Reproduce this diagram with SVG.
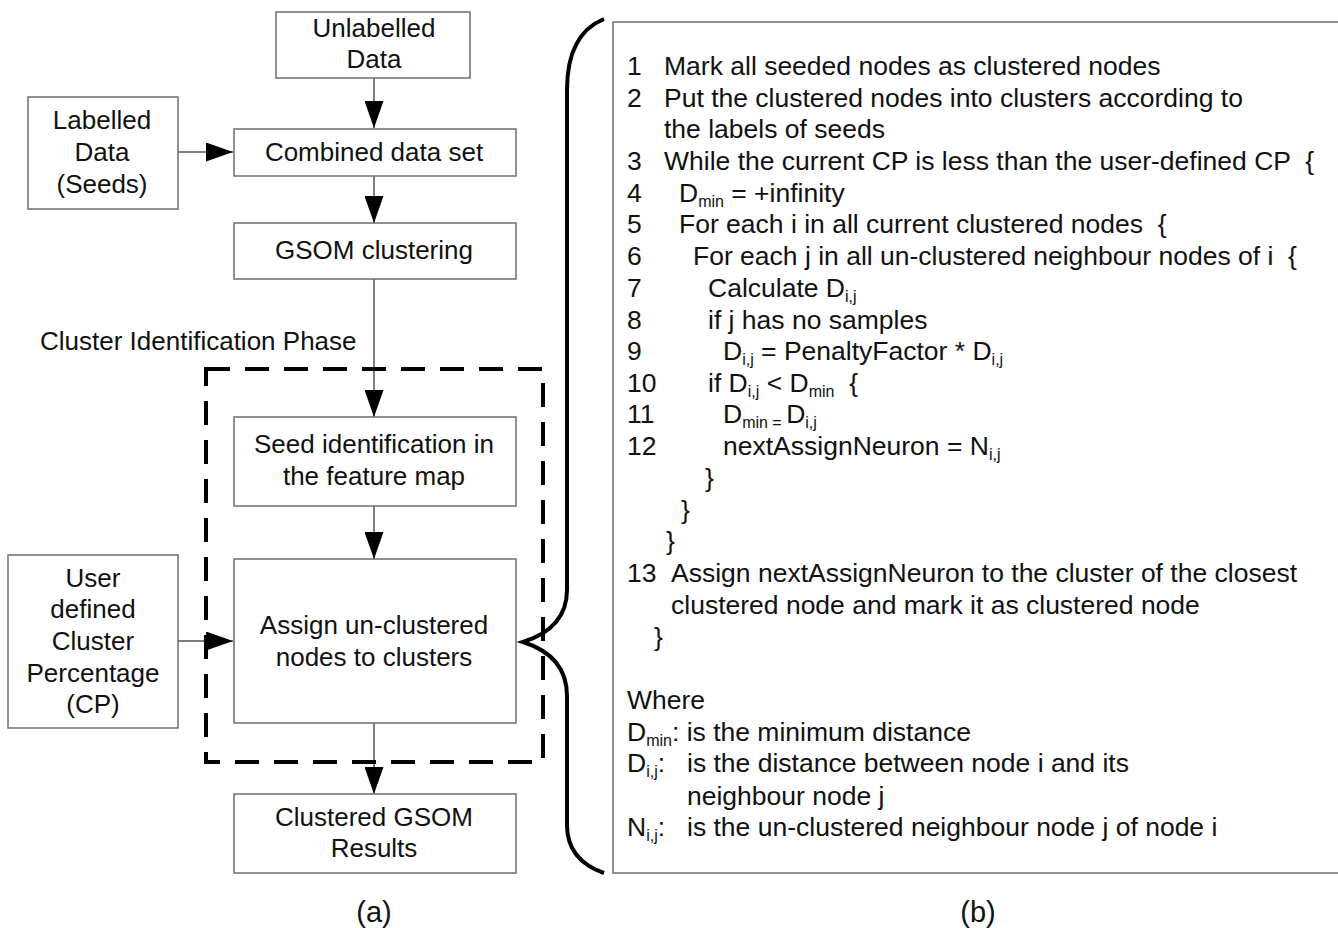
<svg xmlns="http://www.w3.org/2000/svg" width="1338" height="928" viewBox="0 0 1338 928">
<style>
.bx{fill:#fff;stroke:#6e6e6e;stroke-width:1.5}
.t{font-family:"Liberation Sans",Arial,sans-serif;font-size:26px;fill:#111}
.r{font-size:26.5px}
.c{text-anchor:middle}
.cap{font-size:29px}
.cn{stroke:#555;stroke-width:1.5;fill:none}
.sub{font-size:16px}
</style>
<defs>
<marker id="ah" markerUnits="userSpaceOnUse" markerWidth="27" markerHeight="19" refX="27" refY="9.5" orient="auto">
<path d="M0,0 L27,9.5 L0,19 z" fill="#000"/>
</marker>
</defs>
<rect x="0" y="0" width="1338" height="928" fill="#fff"/>

<g id="connectors">
<line class="cn" x1="374" y1="78" x2="374" y2="128" marker-end="url(#ah)"/>
<line class="cn" x1="178" y1="152" x2="233" y2="152" marker-end="url(#ah)"/>
<line class="cn" x1="374" y1="176" x2="374" y2="223" marker-end="url(#ah)"/>
<line class="cn" x1="374" y1="279" x2="374" y2="417" marker-end="url(#ah)"/>
<line class="cn" x1="374" y1="506" x2="374" y2="559" marker-end="url(#ah)"/>
<line class="cn" x1="178" y1="641" x2="233" y2="641" marker-end="url(#ah)"/>
<line class="cn" x1="374" y1="723" x2="374" y2="794" marker-end="url(#ah)"/>
</g>

<g id="phase">
<rect x="206" y="369" width="337" height="393" fill="none" stroke="#000" stroke-width="4" stroke-dasharray="24,15"/>
<text class="t" x="40" y="350">Cluster Identification Phase</text>
</g>

<g id="unlabelled">
<rect class="bx" x="276" y="12" width="194" height="66"/>
<text class="t c" x="374" y="37">Unlabelled</text>
<text class="t c" x="374" y="68">Data</text>
</g>
<g id="labelled">
<rect class="bx" x="28" y="97" width="150" height="112"/>
<text class="t c" x="102" y="129">Labelled</text>
<text class="t c" x="102" y="161">Data</text>
<text class="t c" x="102" y="193">(Seeds)</text>
</g>
<g id="combined">
<rect class="bx" x="234" y="129" width="282" height="47"/>
<text class="t c" x="374" y="161">Combined data set</text>
</g>
<g id="gsom">
<rect class="bx" x="234" y="223" width="282" height="56"/>
<text class="t c" x="374" y="259">GSOM clustering</text>
</g>
<g id="seed">
<rect class="bx" x="234" y="417" width="282" height="89"/>
<text class="t c" x="374" y="453">Seed identification in</text>
<text class="t c" x="374" y="485">the feature map</text>
</g>
<g id="assign">
<rect class="bx" x="234" y="559" width="282" height="164"/>
<text class="t c" x="374" y="634">Assign un-clustered</text>
<text class="t c" x="374" y="666">nodes to clusters</text>
</g>
<g id="cp">
<rect class="bx" x="8" y="555" width="170" height="173"/>
<text class="t c" x="93" y="587">User</text>
<text class="t c" x="93" y="618">defined</text>
<text class="t c" x="93" y="650">Cluster</text>
<text class="t c" x="93" y="682">Percentage</text>
<text class="t c" x="93" y="713">(CP)</text>
</g>
<g id="results">
<rect class="bx" x="234" y="794" width="282" height="79"/>
<text class="t c" x="374" y="826">Clustered GSOM</text>
<text class="t c" x="374" y="857">Results</text>
</g>
<text class="t c cap" x="374" y="922">(a)</text>

<g id="brace">
<path d="M604,19 Q567,34 567,90 L567,590 Q567,628 523,642 Q567,656 567,696 L567,825 Q567,860 604,873" fill="none" stroke="#000" stroke-width="4"/>
</g>

<g id="algorithm">
<rect class="bx" x="613" y="22" width="740" height="851"/>
<text class="t r" x="627" y="75">1</text><text class="t r" x="664" y="75">Mark all seeded nodes as clustered nodes</text>
<text class="t r" x="627" y="107">2</text><text class="t r" x="664" y="107">Put the clustered nodes into clusters according to</text>
<text class="t r" x="664" y="138">the labels of seeds</text>
<text class="t r" x="627" y="170">3</text><text class="t r" x="664" y="170" xml:space="preserve">While the current CP is less than the user-defined CP  {</text>
<text class="t r" x="627" y="202">4</text><text class="t r" x="679" y="202">D<tspan class="sub" dy="5">min</tspan><tspan dy="-5"> = +infinity</tspan></text>
<text class="t r" x="627" y="233">5</text><text class="t r" x="679" y="233" xml:space="preserve">For each i in all current clustered nodes  {</text>
<text class="t r" x="627" y="265">6</text><text class="t r" x="693" y="265" xml:space="preserve">For each j in all un-clustered neighbour nodes of i  {</text>
<text class="t r" x="627" y="297">7</text><text class="t r" x="708" y="297">Calculate D<tspan class="sub" dy="5">i,j</tspan></text>
<text class="t r" x="627" y="329">8</text><text class="t r" x="708" y="329">if j has no samples</text>
<text class="t r" x="627" y="360">9</text><text class="t r" x="723" y="360">D<tspan class="sub" dy="5">i,j</tspan><tspan dy="-5"> = PenaltyFactor * D</tspan><tspan class="sub" dy="5">i,j</tspan></text>
<text class="t r" x="627" y="392">10</text><text class="t r" x="708" y="392" xml:space="preserve">if D<tspan class="sub" dy="5">i,j</tspan><tspan dy="-5"> &lt; D</tspan><tspan class="sub" dy="5">min</tspan><tspan dy="-5">  {</tspan></text>
<text class="t r" x="627" y="423">11</text><text class="t r" x="723" y="423" xml:space="preserve">D<tspan class="sub" dy="5">min = </tspan><tspan dy="-5">D</tspan><tspan class="sub" dy="5">i,j</tspan></text>
<text class="t r" x="627" y="455">12</text><text class="t r" x="723" y="455">nextAssignNeuron = N<tspan class="sub" dy="5">i,j</tspan></text>
<text class="t r" x="705" y="487">}</text>
<text class="t r" x="681" y="519">}</text>
<text class="t r" x="666" y="550">}</text>
<text class="t r" x="627" y="582">13</text><text class="t r" x="671" y="582">Assign nextAssignNeuron to the cluster of the closest</text>
<text class="t r" x="671" y="614">clustered node and mark it as clustered node</text>
<text class="t r" x="654" y="646">}</text>
<text class="t r" x="627" y="709">Where</text>
<text class="t r" x="627" y="741">D<tspan class="sub" dy="5">min</tspan><tspan dy="-5">: is the minimum distance</tspan></text>
<text class="t r" x="627" y="772">D<tspan class="sub" dy="5">i,j</tspan><tspan dy="-5">:</tspan></text><text class="t r" x="687" y="772">is the distance between node i and its</text>
<text class="t r" x="687" y="805">neighbour node j</text>
<text class="t r" x="627" y="836">N<tspan class="sub" dy="5">i,j</tspan><tspan dy="-5">:</tspan></text><text class="t r" x="687" y="836">is the un-clustered neighbour node j of node i</text>
</g>
<text class="t c cap" x="978" y="922">(b)</text>
</svg>
